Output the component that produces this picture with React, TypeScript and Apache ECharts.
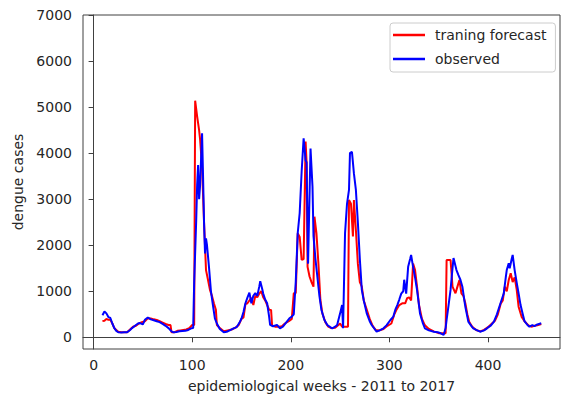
import React, { useEffect, useRef } from "react";
import * as echarts from "echarts";

const xTicks = [0, 100, 200, 300, 400];
const yTicks = [0, 1000, 2000, 3000, 4000, 5000, 6000, 7000];

const obsWeeks = [
  9, 11, 13, 15, 17, 19, 21, 23, 25, 28, 31, 34, 37, 39, 42, 45, 47, 50, 52, 55,
  58, 61, 64, 67, 70, 73, 76, 79, 81, 84, 87, 90, 93, 96, 99, 101, 102, 104, 105, 106,
  107, 108, 110, 111, 112, 113, 114, 115, 117, 119, 121, 123, 125, 128, 132, 135, 138, 142, 145, 148,
  150, 152, 154, 156, 158, 160, 162, 164, 166, 168, 169, 171, 172, 174, 176, 178, 179, 182, 186, 189,
  192, 196, 199, 201, 203, 205, 207, 209, 211, 213, 215, 216, 217.5, 220, 222, 223, 225, 227, 229, 231,
  234, 237, 240, 242, 245, 247, 250, 252, 253, 255, 257, 259, 260, 262, 264, 266, 268, 270, 272, 274,
  277, 280, 282, 285, 287, 290, 294, 297, 301, 304, 306, 308, 310, 312, 314, 315, 317, 319, 321, 322,
  324, 326, 328, 330, 331, 334, 336, 340, 345, 349, 352, 355, 357, 358, 360, 362, 364, 365, 367, 368,
  370, 372, 374, 376, 377, 379, 380, 383, 385, 389, 392, 396, 399, 403, 406, 409, 411, 413, 416, 418,
  419, 421, 422, 424, 425, 427, 429, 431, 433, 435, 437, 440, 442, 445, 447, 450, 454
];
const obsCases = [
  480, 560, 520, 440, 420, 300, 200, 140, 110, 105, 110, 108, 160, 200, 250, 300, 310, 280, 380, 430,
  390, 370, 350, 330, 290, 250, 200, 130, 108, 115, 130, 135, 140, 160, 195, 200, 1200, 2500, 3300, 3740,
  3000, 3300, 4430, 3500, 2500, 1820, 2150, 2000, 1530, 1000, 700, 410, 300, 180, 110, 120, 150, 195, 220, 320,
  410, 550, 740, 860, 970, 740, 900, 960, 900, 1100, 1220, 1050, 950, 820, 740, 450, 270, 240, 270, 195,
  230, 340, 420, 450, 500, 1200, 2260, 2700, 3600, 4320, 3850, 3800, 1600, 4100, 3270, 2200, 1700, 1300, 900, 600,
  380, 267, 220, 195, 230, 267, 520, 700, 195, 2260, 2900, 3200, 4000, 4030, 3560, 3200, 2500, 1700, 1030, 800,
  520, 350, 267, 180, 122, 150, 195, 260, 376, 450, 600, 700, 820, 950, 1000, 1250, 950, 1530, 1700, 1790,
  1530, 1300, 1030, 700, 520, 300, 195, 150, 122, 110, 87, 50, 200, 376, 700, 1030, 1500, 1720, 1550, 1460,
  1350, 1250, 1100, 800, 665, 450, 340, 250, 195, 150, 122, 150, 195, 260, 340, 500, 630, 760, 955, 1300,
  1460, 1610, 1500, 1700, 1790, 1460, 1200, 955, 700, 521, 350, 267, 230, 267, 240, 280, 304
];

const fcWeeks = [
  9, 11, 13, 15, 17, 19, 21, 23, 25, 28, 31, 34, 37, 40, 43, 46, 49, 52, 55, 58,
  61, 64, 67, 70, 73, 76, 78, 79, 82, 85, 88, 91, 94, 97, 100, 102, 103, 105, 107, 108,
  110, 112, 114, 116, 118, 120, 122, 124, 125, 128, 132, 136, 140, 144, 147, 150, 152, 154, 156, 158,
  160, 162, 164, 166, 168, 170, 172, 174, 176, 178, 180, 181, 184, 188, 191, 194, 198, 201, 203, 205,
  207, 209, 211, 213, 215, 216, 217, 219, 221, 223, 224, 226, 228, 230, 232, 235, 238, 241, 245, 248,
  250, 252, 255, 258, 259, 261, 263, 264, 266, 268, 270, 272, 274, 277, 280, 283, 286, 290, 294, 298,
  302, 305, 307, 310, 313, 316, 318, 320, 322, 324, 326, 328, 330, 333, 336, 340, 345, 350, 355, 357,
  358, 362, 364, 367, 369, 371, 373, 375, 377, 379, 381, 384, 388, 392, 396, 400, 404, 407, 410, 413,
  415, 417, 419, 421, 423, 425, 427, 429, 431, 434, 437, 441, 444, 447, 450, 454
];
const fcCases = [
  354, 360, 400, 380, 380, 300, 200, 160, 120, 110, 108, 110, 170, 230, 250, 300, 330, 350, 413, 410,
  390, 376, 350, 320, 290, 267, 267, 108, 110, 140, 150, 160, 170, 200, 267, 267, 5140, 4800, 4500, 4300,
  3700, 2500, 1460, 1250, 1030, 900, 740, 600, 267, 200, 130, 150, 170, 210, 260, 400, 430, 720, 740, 800,
  860, 700, 900, 870, 950, 1000, 870, 800, 700, 600, 593, 260, 230, 230, 240, 300, 350, 400, 955, 960,
  2260, 2180, 1680, 1700, 4250, 3800, 1530, 1320, 1200, 1100, 2620, 2260, 1600, 810, 520, 330, 230, 200, 210, 260,
  300, 230, 230, 230, 2980, 2900, 2190, 2980, 2330, 1600, 1200, 1100, 800, 600, 400, 250, 160, 150, 180, 250,
  300, 500, 593, 700, 738, 738, 850, 869, 800, 1600, 1460, 1100, 700, 400, 260, 180, 130, 90, 90, 90,
  1680, 1680, 1100, 955, 1100, 1245, 955, 900, 740, 500, 330, 230, 160, 130, 160, 220, 300, 360, 500, 738,
  800, 1100, 1000, 1245, 1390, 1200, 1300, 1050, 665, 450, 350, 260, 230, 250, 260, 290
];

const FONT = "'DejaVu Sans', sans-serif";
const TEXT = "#262626";
const SPINE = "#404040";

export default function App() {
  const ref = useRef<HTMLDivElement>(null);
  useEffect(() => {
    if (!ref.current) return;
    const chart = echarts.init(ref.current, null, { renderer: "svg" });
    const fc = fcWeeks.map((w, i) => [w, fcCases[i]]);
    const obs = obsWeeks.map((w, i) => [w, obsCases[i]]);
    chart.setOption({
      animation: false,
      backgroundColor: "#ffffff",
      textStyle: { fontFamily: FONT },
      grid: {
        left: 83,
        right: 3,
        top: 15,
        bottom: 50,
        show: true,
        borderColor: SPINE,
        borderWidth: 1,
        backgroundColor: "transparent",
      },
      legend: {
        orient: "vertical",
        left: 390,
        top: 23,
        padding: [4, 9, 5, 3],
        itemGap: 8,
        itemWidth: 32,
        itemHeight: 2.5,
        icon: "rect",
        backgroundColor: "#ffffff",
        borderColor: "#cccccc",
        borderWidth: 1,
        borderRadius: 3,
        textStyle: {
          fontFamily: FONT,
          fontSize: 14,
          color: TEXT,
          lineHeight: 16,
          padding: [0, 0, 0, 5],
        },
        data: ["traning forecast", "observed"],
      },
      xAxis: {
        type: "value",
        min: -10.75,
        max: 473,
        name: "epidemiological weeks - 2011 to 2017",
        nameLocation: "middle",
        nameGap: 30,
        nameTextStyle: { fontFamily: FONT, fontSize: 14, color: TEXT },
        splitLine: { show: false },
        axisLine: { show: true, lineStyle: { color: SPINE, width: 1 } },
        axisTick: {
          show: true,
          inside: false,
          length: 5,
          lineStyle: { color: SPINE },
          customValues: xTicks,
        },
        axisLabel: {
          fontFamily: FONT,
          fontSize: 14,
          color: TEXT,
          margin: 9,
          customValues: xTicks,
          formatter: (v: number) => String(v),
        },
      },
      yAxis: {
        type: "value",
        min: -254,
        max: 7000,
        name: "dengue cases",
        nameLocation: "middle",
        nameGap: 56,
        nameTextStyle: { fontFamily: FONT, fontSize: 14, color: TEXT },
        splitLine: { show: false },
        axisLine: { show: true, lineStyle: { color: SPINE, width: 1 } },
        axisTick: {
          show: true,
          inside: false,
          length: 5,
          lineStyle: { color: SPINE },
          customValues: yTicks,
        },
        axisLabel: {
          fontFamily: FONT,
          fontSize: 14,
          color: TEXT,
          margin: 11,
          customValues: yTicks,
          formatter: (v: number) => String(v),
        },
      },
      series: [
        {
          name: "traning forecast",
          type: "line",
          data: fc,
          showSymbol: false,
          symbol: "none",
          color: "#ff0000",
          lineStyle: { color: "#ff0000", width: 2 },
          z: 2,
        },
        {
          name: "observed",
          type: "line",
          data: obs,
          showSymbol: false,
          symbol: "none",
          color: "#0000ff",
          lineStyle: { color: "#0000ff", width: 2 },
          z: 3,
        },
      ],
    });
    return () => chart.dispose();
  }, []);
  return (
    <div
      ref={ref}
      style={{ position: "absolute", left: 0, top: 0, width: 563, height: 399 }}
    />
  );
}
